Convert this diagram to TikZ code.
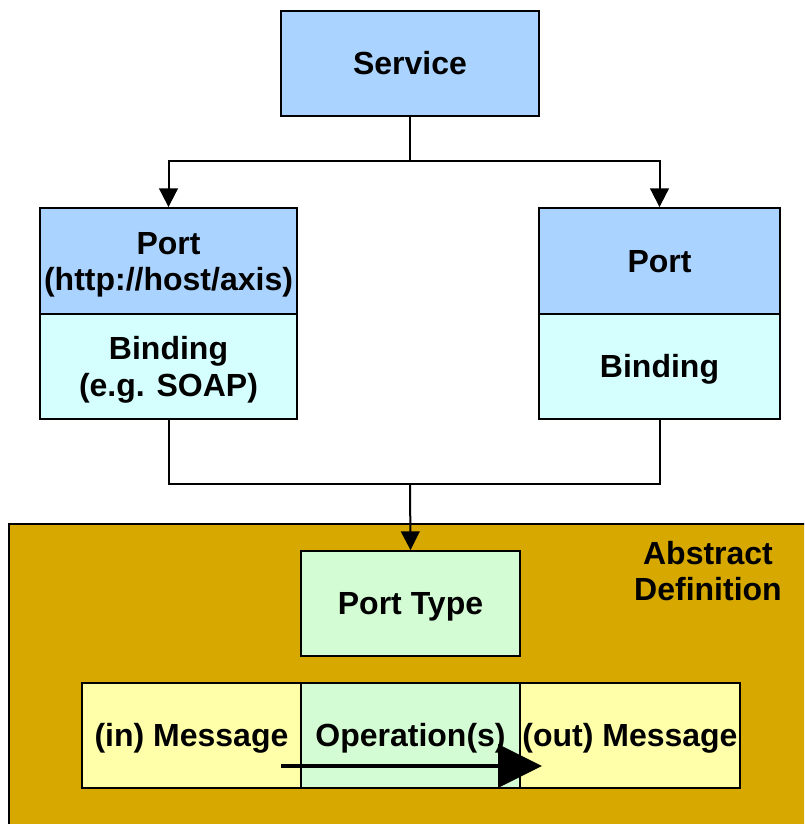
\documentclass[tikz,border=0pt]{standalone}
\usepackage{fontspec}
\setmainfont{Liberation Sans}
\usetikzlibrary{arrows.meta}
\definecolor{portblue}{HTML}{AAD4FF}
\definecolor{bindcyan}{HTML}{D5FFFF}
\definecolor{opgreen}{HTML}{D4FCD4}
\definecolor{msgyellow}{HTML}{FFFFAA}
\definecolor{abstractgold}{HTML}{D6A800}
\begin{document}
\begin{tikzpicture}[x=0.75pt,y=-0.75pt,
  labeltext/.style={align=center,inner sep=0pt,font=\fontsize{24}{27.2}\selectfont\bfseries},
  oneline/.style={text height=17.2pt,text depth=0pt},
  twoline/.style={text height=44.4pt,text depth=0pt},
  box/.style={labeltext,draw=black,line width=1.4pt,rectangle},
  conn/.style={line width=1.5pt},
  arr/.style={conn,-{Triangle[length=14pt,width=14pt]}},
  bigarr/.style={line width=3.2pt,-{Triangle[length=33pt,width=32pt]}}]
\useasboundingbox (0,0) rectangle (804,824);
\clip (0,0) rectangle (804,824);
% abstract definition area
\draw[fill=abstractgold,line width=2.2pt] (9,524) rectangle (830,850);
\node[labeltext,twoline] (abstr) at (708,571) {Abstract\\Definition};
% service and ports
\node[box,oneline,fill=portblue,minimum width=258*0.75pt,minimum height=105*0.75pt] (service) at (410,63.5) {Service};
\node[box,twoline,fill=portblue,minimum width=257*0.75pt,minimum height=106*0.75pt] (port1) at (168.5,261) {Port\\(http://host/axis)};
\node[box,twoline,fill=bindcyan,minimum width=257*0.75pt,minimum height=105*0.75pt] (binding1) at (168.5,366.5) {Binding\\(e.g. SOAP)};
\node[box,oneline,fill=portblue,minimum width=241*0.75pt,minimum height=106*0.75pt] (port2) at (659.5,261) {Port};
\node[box,oneline,fill=bindcyan,minimum width=241*0.75pt,minimum height=105*0.75pt] (binding2) at (659.5,366.5) {Binding};
% abstract part
\node[box,oneline,fill=opgreen,minimum width=219*0.75pt,minimum height=105*0.75pt] (porttype) at (410.5,603.5) {Port Type};
\node[box,oneline,fill=msgyellow,minimum width=219*0.75pt,minimum height=105*0.75pt] (inmsg) at (191.5,735.5) {(in) Message};
\node[box,oneline,fill=opgreen,minimum width=219*0.75pt,minimum height=105*0.75pt] (oper) at (410.5,735.5) {Operation(s)};
\node[box,oneline,fill=msgyellow,minimum width=220*0.75pt,minimum height=105*0.75pt] (outmsg) at (630,735.5) {(out) Message};
% connectors
\coordinate (split) at (410,161);
\coordinate (join) at (410,484);
\draw[conn] (service.south) -- (split);
\draw[arr] (split) -| (port1.north);
\draw[arr] (split) -| (port2.north);
\draw[conn] (binding1.south) |- (join) -| (binding2.south);
\draw[arr] (join) -- (porttype.north);
% flow arrow
\coordinate (flowstart) at (281,766);
\coordinate (flowend) at (542,766);
\draw[bigarr] (flowstart) -- (flowend);
\end{tikzpicture}
\end{document}
